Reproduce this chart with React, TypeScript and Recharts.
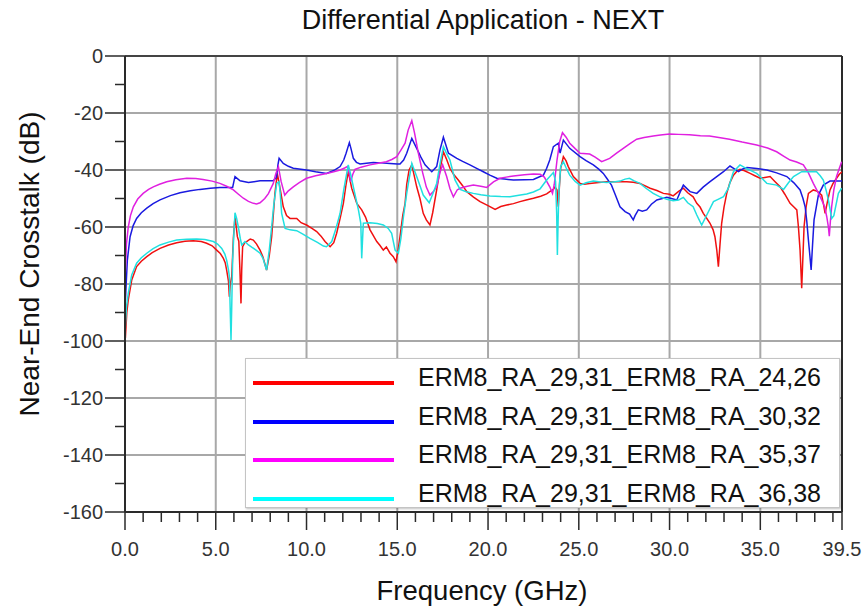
import React from 'react';
import { LineChart, Line, XAxis, YAxis, ReferenceLine } from 'recharts';

const FONT = '"Liberation Sans", Arial, Helvetica, sans-serif';

const TITLE = 'Differential Application - NEXT';
const X_LABEL = 'Frequency (GHz)';
const Y_LABEL = 'Near-End Crosstalk (dB)';

const SERIES_NAMES = [
  'ERM8_RA_29,31_ERM8_RA_24,26',
  'ERM8_RA_29,31_ERM8_RA_30,32',
  'ERM8_RA_29,31_ERM8_RA_35,37',
  'ERM8_RA_29,31_ERM8_RA_36,38',
];
const SERIES_COLORS = ['#ff0000', '#0000ff', '#ff00ff', '#00ffff'];
const LINE_COLORS = ['#f01010', '#1a1ae0', '#e020e0', '#20e0e0'];

const X_MAJOR = [0, 5, 10, 15, 20, 25, 30, 35, 39.5];
const X_TICKS = [0, 1, 2, 3, 4, 5, 6, 7, 8, 9, 10, 11, 12, 13, 14, 15, 16, 17, 18, 19, 20, 21, 22, 23, 24, 25, 26, 27, 28, 29, 30, 31, 32, 33, 34, 35, 36, 37, 38, 39, 39.5];
const X_GRID = [5, 10, 15, 20, 25, 30, 35];
const Y_TICKS = [0, -10, -20, -30, -40, -50, -60, -70, -80, -90, -100, -110, -120, -130, -140, -150, -160];
const Y_MAJOR = [0, -20, -40, -60, -80, -100, -120, -140, -160];
const Y_GRID = [-20, -40, -60, -80, -100, -120, -140];

const RED: number[][] = [[0.02,-99],[0.1,-90],[0.18,-85.6],[0.37,-78.6],[0.64,-73.9],[0.9,-72],[1.2,-70.4],[1.5,-69],[1.93,-67.5],[2.4,-66.3],[2.85,-65.5],[3.3,-65],[3.76,-64.8],[4.2,-65.1],[4.5,-65.7],[4.8,-66.6],[5.05,-68.1],[5.25,-69.3],[5.42,-71],[5.52,-72.5],[5.6,-75.1],[5.7,-79],[5.75,-84.5],[5.8,-80],[5.88,-77.4],[5.97,-64],[6.06,-56.4],[6.13,-60],[6.19,-63.4],[6.27,-65],[6.33,-75],[6.39,-86.8],[6.43,-75],[6.48,-66.9],[6.6,-65.5],[6.7,-65.1],[6.9,-64.2],[7.07,-64.6],[7.25,-66],[7.44,-68.1],[7.6,-70.5],[7.8,-75.1],[7.95,-70],[8.08,-63.4],[8.26,-48.2],[8.39,-41.2],[8.54,-46.4],[8.72,-52.9],[8.9,-56],[9.09,-57],[9.46,-57],[9.7,-58.5],[10.0,-59.3],[10.3,-60.5],[10.56,-61.6],[10.8,-63.2],[11.02,-65.1],[11.3,-66.9],[11.5,-65.5],[11.66,-62.2],[11.85,-57],[12.03,-51.7],[12.18,-45],[12.3,-40.6],[12.49,-46.4],[12.77,-51.7],[13.04,-54],[13.25,-56.5],[13.5,-61],[13.87,-65.1],[14.05,-66.5],[14.23,-68.1],[14.4,-67],[14.6,-69.2],[14.78,-70.4],[14.93,-72.2],[15.05,-68],[15.15,-63.4],[15.3,-56],[15.43,-51.7],[15.52,-45],[15.65,-40],[15.8,-38.2],[16.07,-45.9],[16.25,-50],[16.43,-55.2],[16.6,-57.5],[16.8,-59.3],[16.95,-55],[17.17,-47],[17.35,-40],[17.54,-33.6],[17.7,-36],[17.9,-39.4],[18.1,-41.5],[18.36,-43.5],[18.6,-45.5],[18.83,-47.6],[19.2,-49.5],[19.56,-51.1],[20.0,-52.5],[20.39,-53.8],[20.7,-52.8],[21.03,-52.3],[21.4,-51.8],[21.76,-51.1],[22.1,-50.5],[22.5,-49.9],[22.9,-49.2],[23.23,-48.4],[23.4,-47.6],[23.6,-46.8],[23.69,-45.9],[23.8,-47],[23.87,-52.9],[23.93,-46],[24.0,-39.4],[24.15,-35.3],[24.3,-36.8],[24.42,-38.8],[24.7,-42.3],[25.07,-44.7],[25.3,-45],[25.6,-44.7],[26.1,-44.4],[26.54,-44.1],[27.1,-44.1],[27.64,-44.1],[28.0,-44.3],[28.37,-44.7],[28.93,-46.4],[29.3,-47.2],[29.66,-48.2],[30.0,-48.5],[30.2,-49.1],[30.5,-47.5],[30.76,-46.4],[31.0,-48],[31.3,-49.4],[31.5,-51.7],[31.68,-53],[31.86,-55.2],[32.05,-57],[32.23,-58.7],[32.4,-61],[32.5,-63.4],[32.6,-68],[32.69,-73.9],[32.78,-66],[32.87,-58.7],[33.0,-53],[33.15,-48.2],[33.32,-44.5],[33.52,-41.8],[33.7,-40.5],[33.88,-39.8],[34.1,-40.2],[34.44,-41.2],[34.7,-42],[34.99,-42.9],[35.25,-42.6],[35.54,-42.3],[35.8,-44],[36.09,-45.9],[36.35,-48.5],[36.64,-51.7],[36.85,-53],[37.01,-54],[37.1,-60],[37.19,-68.1],[37.28,-81.5],[37.35,-70],[37.41,-59.9],[37.52,-53],[37.65,-48.2],[37.92,-47],[38.15,-47.5],[38.38,-48.8],[38.48,-52],[38.57,-55.2],[38.7,-51],[38.84,-47],[39.0,-44.8],[39.2,-42.9],[39.35,-41.5],[39.5,-40.6]];

const BLUE: number[][] = [[0.02,-86],[0.08,-78],[0.13,-71.6],[0.28,-63.4],[0.45,-59.5],[0.64,-57],[0.9,-55],[1.2,-53.4],[1.55,-51.8],[1.93,-50.5],[2.5,-49],[3.03,-48],[3.6,-47.3],[4.13,-46.8],[4.7,-46.4],[5.23,-46.1],[5.6,-46.1],[5.93,-46.1],[6.0,-44],[6.06,-42.3],[6.34,-43.8],[6.8,-44.4],[7.1,-44.1],[7.44,-43.8],[7.8,-43.8],[8.17,-43.8],[8.35,-42.5],[8.43,-38],[8.49,-35.9],[8.72,-37.7],[9.0,-38.7],[9.27,-39.4],[10.0,-40],[10.5,-40.6],[11.1,-41.2],[11.5,-40.2],[11.85,-38.8],[12.05,-36.5],[12.18,-34.1],[12.36,-30.4],[12.45,-32.5],[12.58,-35.9],[12.75,-37.3],[12.95,-37.9],[13.3,-37.6],[13.68,-37.4],[14.1,-37.5],[14.6,-37.7],[15.0,-37.9],[15.15,-37.9],[15.35,-36.5],[15.52,-34.1],[15.8,-28.9],[16.07,-32.4],[16.3,-35.5],[16.53,-38.2],[16.9,-40.6],[17.17,-38.8],[17.35,-33],[17.54,-28.5],[17.82,-34.1],[18.28,-35.9],[18.6,-37],[19.0,-38.2],[19.4,-39.5],[19.74,-40.6],[20.1,-41.8],[20.48,-42.9],[20.9,-43.2],[21.4,-43.5],[22.0,-43.4],[22.5,-43.3],[22.87,-42.3],[23.05,-41.8],[23.23,-39.4],[23.4,-36.5],[23.6,-31.8],[23.87,-30.6],[23.97,-34.1],[24.15,-29.5],[24.5,-32.4],[25.07,-35.3],[25.4,-36.7],[25.8,-38.2],[26.1,-39.7],[26.35,-41.2],[26.55,-43],[26.8,-45.3],[27.0,-48.5],[27.27,-52.9],[27.55,-54.6],[27.8,-55.5],[28.0,-57.5],[28.1,-56],[28.28,-54],[28.5,-54.5],[28.74,-54],[29.0,-52],[29.3,-50.5],[29.85,-49.6],[30.1,-50],[30.4,-50.5],[30.6,-47.5],[30.76,-45.3],[31.0,-46.8],[31.13,-47.6],[31.5,-48.2],[31.85,-46],[32.23,-44.1],[32.6,-42.3],[32.97,-40.6],[33.33,-38.6],[33.55,-39.5],[33.8,-40.6],[34.0,-39.7],[34.26,-39.1],[34.8,-39.5],[35.36,-40],[35.9,-41],[36.46,-42.3],[36.85,-44.5],[37.19,-47],[37.35,-50],[37.47,-52.9],[37.56,-58],[37.65,-64.6],[37.73,-70],[37.8,-75.1],[37.88,-66],[37.96,-57.5],[38.2,-48.8],[38.47,-45.3],[38.84,-43.9],[39.2,-43.9],[39.5,-43.9]];

const MAGENTA: number[][] = [[0.02,-76],[0.08,-66],[0.18,-60],[0.3,-56],[0.46,-52.9],[0.7,-50.2],[1.0,-48.2],[1.3,-46.8],[1.56,-45.9],[1.9,-45],[2.3,-44.1],[2.8,-43.4],[3.4,-42.9],[3.9,-43],[4.3,-43.3],[4.8,-43.9],[5.23,-44.7],[5.6,-45.7],[5.97,-47],[6.25,-48.5],[6.52,-49.9],[6.8,-51],[7.07,-51.7],[7.25,-51.9],[7.44,-51.5],[7.7,-50],[7.9,-48.3],[8.17,-44.7],[8.3,-41.5],[8.45,-38.8],[8.6,-44],[8.8,-48.8],[9.0,-47.3],[9.27,-45.9],[9.6,-44.4],[10.0,-42.9],[10.5,-42],[11.1,-41.2],[11.5,-40.6],[11.85,-40],[12.1,-39.3],[12.25,-38.8],[12.35,-41],[12.43,-44.1],[12.55,-41.5],[12.67,-39.8],[13.0,-39],[13.5,-38.2],[13.95,-37.6],[14.4,-37.1],[14.7,-36.3],[14.97,-35.3],[15.2,-33],[15.43,-30.6],[15.6,-26],[15.8,-22.7],[15.95,-27],[16.16,-34.1],[16.4,-41],[16.6,-46],[16.8,-48.8],[17.0,-47.5],[17.17,-45.9],[17.35,-41],[17.5,-38.2],[17.72,-42.3],[17.9,-46.5],[18.09,-49.4],[18.3,-47],[18.46,-46.4],[18.8,-45.8],[19.19,-45.3],[19.6,-45.7],[19.93,-46.1],[20.3,-44.2],[20.66,-42.9],[21.0,-42.5],[21.4,-42.1],[22.0,-41.7],[22.5,-41.4],[22.87,-41.5],[23.1,-42.5],[23.4,-45.9],[23.55,-48.2],[23.65,-45],[23.8,-36.5],[23.95,-30],[24.1,-26.9],[24.3,-28.5],[24.5,-30.6],[24.8,-32.5],[25.07,-34.1],[25.6,-34.4],[25.9,-35.5],[26.26,-37.1],[26.7,-35.9],[27.1,-34],[27.45,-32.4],[27.8,-30.8],[28.19,-29.2],[28.6,-28.6],[29.1,-28.1],[29.5,-27.7],[30.0,-27.4],[30.5,-27.5],[31.1,-27.6],[31.7,-28.0],[32.2,-28.1],[32.8,-28.7],[33.3,-29.2],[34.0,-30.2],[34.8,-31.2],[35.4,-32.3],[35.9,-33.6],[36.3,-35.2],[36.64,-36.5],[37.0,-37.2],[37.37,-38.2],[37.65,-41],[37.92,-44.7],[38.15,-47.5],[38.38,-50.5],[38.55,-53],[38.66,-56.4],[38.75,-60],[38.8,-63.2],[38.86,-58],[38.93,-52.9],[39.05,-47],[39.2,-42.3],[39.35,-39.5],[39.48,-37.1]];

const CYAN: number[][] = [[0.02,-95],[0.08,-88],[0.18,-83.3],[0.37,-76.8],[0.64,-72.7],[0.9,-70.8],[1.2,-69.2],[1.55,-67.6],[1.93,-66.3],[2.4,-65.3],[2.85,-64.6],[3.4,-64.3],[3.95,-64.2],[4.4,-64.4],[4.87,-65.1],[5.1,-66],[5.33,-67.5],[5.5,-69.5],[5.6,-71.6],[5.7,-75],[5.75,-77.4],[5.8,-90],[5.84,-99.6],[5.88,-88],[5.93,-71.6],[6.0,-62],[6.06,-55],[6.15,-57],[6.24,-59.9],[6.35,-64],[6.43,-66.3],[6.61,-65.1],[6.8,-66.3],[6.98,-67.1],[7.2,-68],[7.44,-69.2],[7.6,-71],[7.8,-75.1],[7.95,-68],[8.08,-59.9],[8.2,-52],[8.36,-44.7],[8.49,-44.1],[8.56,-49],[8.63,-55.2],[8.82,-60.5],[9.1,-61],[9.46,-61.3],[9.8,-62.5],[10.19,-64],[10.6,-65.4],[10.93,-66.7],[11.1,-66.9],[11.39,-65.1],[11.6,-61],[11.85,-55.2],[12.05,-47],[12.3,-38.2],[12.45,-42],[12.58,-45.9],[12.72,-50],[12.86,-54],[12.99,-58.7],[13.04,-71],[13.09,-64],[13.13,-58.7],[13.5,-58.5],[13.9,-58.8],[14.23,-59.3],[14.5,-60.5],[14.69,-62.2],[14.88,-68.1],[15.06,-69.2],[15.2,-64],[15.34,-56.4],[15.52,-48.2],[15.61,-44.7],[15.8,-37.7],[16.07,-42.3],[16.25,-45.5],[16.43,-48.8],[16.76,-51.5],[16.95,-48.5],[17.17,-44.7],[17.35,-38],[17.54,-31.8],[17.7,-34],[17.9,-36.5],[18.18,-43.5],[18.46,-46.8],[18.8,-47.6],[19.19,-48.2],[19.6,-48.7],[20.11,-49.1],[20.7,-49.3],[21.21,-49.4],[21.7,-48.9],[22.13,-48.4],[22.5,-47.7],[22.87,-46.6],[23.23,-43.5],[23.6,-40.9],[23.72,-44],[23.78,-55],[23.82,-69.8],[23.86,-58],[23.9,-48.2],[24.0,-38.8],[24.15,-37.1],[24.3,-39.2],[24.5,-41.8],[24.8,-44],[25.07,-45.3],[25.4,-44.5],[25.8,-43.9],[26.2,-44.2],[26.54,-44.4],[27.0,-44.1],[27.27,-43.9],[27.55,-43.2],[27.79,-42.9],[28.05,-43.8],[28.37,-44.7],[28.7,-46.4],[29.1,-48.2],[29.5,-49.5],[29.85,-50.3],[30.2,-50.8],[30.5,-50.5],[30.76,-49.6],[31.0,-51.5],[31.3,-52.9],[31.5,-55.8],[31.77,-59.3],[32.05,-55.8],[32.42,-51.1],[32.7,-50.2],[32.97,-49.4],[33.24,-46.4],[33.4,-43],[33.52,-40.6],[33.88,-38.2],[34.1,-39],[34.34,-39.8],[34.8,-41.2],[35.1,-43],[35.36,-44.7],[35.9,-45.3],[36.28,-46.8],[36.55,-44.5],[36.83,-42.3],[37.28,-40.6],[37.7,-40.6],[38.1,-40.6],[38.3,-42],[38.47,-43.5],[38.62,-47],[38.75,-50.5],[38.93,-57],[39.05,-56],[39.3,-48.2],[39.48,-46.4]];

const SERIES_POINTS = [RED, BLUE, MAGENTA, CYAN];

// layout
const W = 864;
const H = 609;
const PLOT_LEFT = 125;
const PLOT_TOP = 56;
const PLOT_RIGHT = 842;
const PLOT_BOTTOM = 512;
const AXIS_COLOR = '#2a2a2a';
const TICK_TEXT = '#333333';
const GRID_COLOR = '#a8a8a8';

const toRows = (pts: number[][]) => pts.map(([f, db]) => ({ f, db }));

const XTick = (props: any) => {
  const { x, payload } = props;
  const v = payload.value as number;
  const major = X_MAJOR.includes(v);
  return (
    <g>
      <line x1={x} x2={x} y1={PLOT_BOTTOM} y2={PLOT_BOTTOM + (major ? 18 : 10)} stroke={AXIS_COLOR} strokeWidth={1.5} />
      {major && (
        <text x={x} y={PLOT_BOTTOM + 44} textAnchor="middle" fontSize={20} fill={TICK_TEXT} fontFamily={FONT}>
          {v.toFixed(1)}
        </text>
      )}
    </g>
  );
};

const YTick = (props: any) => {
  const { y, payload } = props;
  const v = payload.value as number;
  const major = Y_MAJOR.includes(v);
  return (
    <g>
      <line x1={PLOT_LEFT - (major ? 20 : 10)} x2={PLOT_LEFT} y1={y} y2={y} stroke={AXIS_COLOR} strokeWidth={1.5} />
      {major && (
        <text x={PLOT_LEFT - 22} y={y} dy="0.36em" textAnchor="end" fontSize={20} fill={TICK_TEXT} fontFamily={FONT}>
          {String(v)}
        </text>
      )}
    </g>
  );
};

export default function App() {
  return (
    <div style={{ position: 'absolute', left: 0, top: 0, width: W, height: H, background: '#ffffff', fontFamily: FONT }}>
      <LineChart
        width={W}
        height={H}
        margin={{ top: PLOT_TOP, right: W - PLOT_RIGHT, bottom: 0, left: 0 }}
      >
        {Y_GRID.map((v) => (
          <ReferenceLine key={'gy' + v} y={v} stroke={GRID_COLOR} strokeWidth={2} />
        ))}
        {X_GRID.map((v) => (
          <ReferenceLine key={'gx' + v} x={v} stroke={GRID_COLOR} strokeWidth={2} />
        ))}
        <ReferenceLine y={0} stroke="#444444" strokeWidth={2} />
        <ReferenceLine x={39.5} stroke={AXIS_COLOR} strokeWidth={2} />
        <XAxis
          type="number"
          dataKey="f"
          domain={[0, 39.5]}
          ticks={X_TICKS}
          interval={0}
          height={H - PLOT_BOTTOM}
          allowDataOverflow
          tickLine={false}
          axisLine={{ stroke: AXIS_COLOR, strokeWidth: 2 }}
          tick={<XTick />}
        />
        <YAxis
          type="number"
          dataKey="db"
          domain={[-160, 0]}
          ticks={Y_TICKS}
          interval={0}
          width={PLOT_LEFT}
          allowDataOverflow
          tickLine={false}
          axisLine={{ stroke: AXIS_COLOR, strokeWidth: 2 }}
          tick={<YTick />}
        />
        {SERIES_POINTS.map((pts, i) => (
          <Line
            key={SERIES_NAMES[i]}
            data={toRows(pts)}
            dataKey="db"
            name={SERIES_NAMES[i]}
            type="linear"
            stroke={LINE_COLORS[i]}
            strokeWidth={1.5}
            dot={false}
            activeDot={false}
            isAnimationActive={false}
          />
        ))}
      </LineChart>

      <svg width={W} height={H} style={{ position: 'absolute', left: 0, top: 0, pointerEvents: 'none' }}>
        <text x={483} y={29} textAnchor="middle" fontSize={27} fill="#111" fontFamily={FONT}>
          {TITLE}
        </text>
        <text x={482} y={600} textAnchor="middle" fontSize={27.5} fill="#111" fontFamily={FONT}>
          {X_LABEL}
        </text>
        <text x={39} y={264} textAnchor="middle" fontSize={28} fill="#111" fontFamily={FONT} transform="rotate(-90, 39, 264)">
          {Y_LABEL}
        </text>
      </svg>

      <div
        style={{
          position: 'absolute',
          left: 245,
          top: 358,
          width: 595,
          height: 150,
          background: '#ffffff',
          border: '1px solid #c4c4c4',
          boxShadow: '1px 1px 2px rgba(0,0,0,0.25)',
          boxSizing: 'border-box',
        }}
      >
        {SERIES_NAMES.map((name, i) => {
          const cy = 24 + i * 38.7;
          return (
            <React.Fragment key={name}>
              <div style={{ position: 'absolute', left: 7, top: cy - 2, width: 141, height: 4, background: SERIES_COLORS[i] }} />
              <div
                style={{
                  position: 'absolute',
                  left: 172,
                  top: cy - 6 - 15,
                  height: 30,
                  lineHeight: '30px',
                  fontSize: 25,
                  color: '#111',
                  whiteSpace: 'nowrap',
                  fontFamily: FONT,
                }}
              >
                {name}
              </div>
            </React.Fragment>
          );
        })}
      </div>
    </div>
  );
}
